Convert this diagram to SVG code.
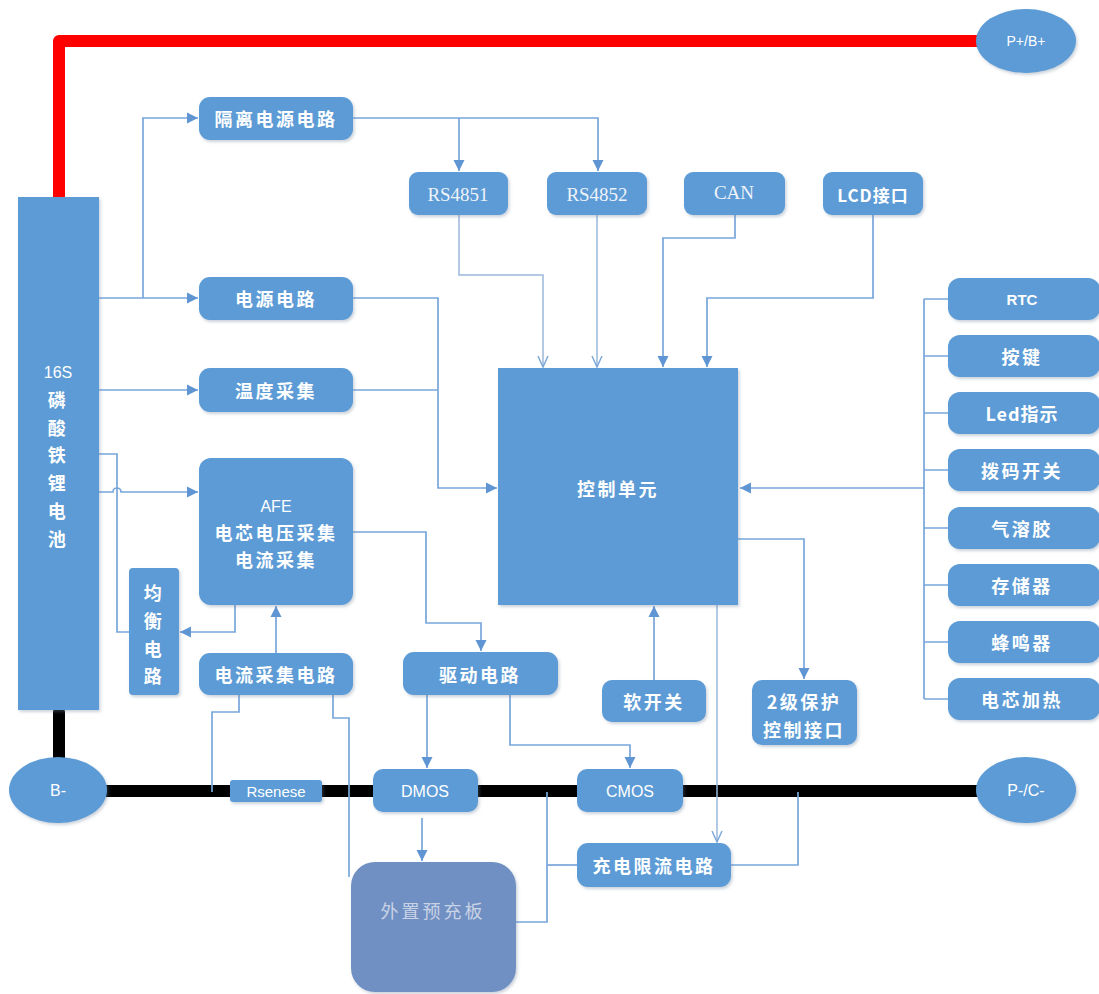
<svg xmlns="http://www.w3.org/2000/svg" width="1099" height="994" viewBox="0 0 1099 994">
<defs>
<filter id="sh" x="-10%" y="-10%" width="130%" height="140%"><feDropShadow dx="1.5" dy="2" stdDeviation="1.5" flood-color="#6a7f99" flood-opacity="0.35"/></filter>
<marker id="af" markerUnits="userSpaceOnUse" markerWidth="12" markerHeight="12" refX="11" refY="6" orient="auto"><path d="M0,0.5 L11,6 L0,11.5 z" fill="#5f95d3"/></marker>
<marker id="ao" markerUnits="userSpaceOnUse" markerWidth="12" markerHeight="12" refX="11" refY="6" orient="auto"><path d="M0,1 L11,6 L0,11" fill="none" stroke="#7aa5d8" stroke-width="1.4"/></marker>
</defs>
<style>
.box{fill:#5b9bd5;filter:url(#sh)}
.pre{fill:#6f8fc2;filter:url(#sh)}
.t{fill:#ffffff;font-family:"Noto Sans CJK SC","Noto Sans",sans-serif;font-size:18px;font-weight:bold;letter-spacing:2.5px;text-anchor:middle;dominant-baseline:central}
.s{fill:#eef3fa;font-family:"Liberation Serif",serif;font-size:19px;text-anchor:middle;dominant-baseline:central}
.e{fill:#ffffff;font-family:"Liberation Sans","Noto Sans",sans-serif;font-size:16px;text-anchor:middle;dominant-baseline:central}
.c{fill:none;stroke:#78a6db;stroke-width:1.7}
.ca{fill:none;stroke:#78a6db;stroke-width:1.7;marker-end:url(#af)}
.co{fill:none;stroke:#9ab8dc;stroke-width:1.5;marker-end:url(#ao)}
</style>
<rect width="1099" height="994" fill="#ffffff"/>

<!-- power rails -->
<g id="rails">
<path d="M59,199 V41 H985" fill="none" stroke="#ff0000" stroke-width="12" stroke-linecap="round" stroke-linejoin="round"/>
<path d="M59,712 V758" fill="none" stroke="#000000" stroke-width="12" stroke-linecap="round"/>
<path d="M100,791 H985" fill="none" stroke="#000000" stroke-width="12" stroke-linecap="round"/>
</g>

<!-- connectors -->
<g id="connectors">
<path class="ca" d="M99,298 H198"/>
<path class="ca" d="M143,298 V118 H198"/>
<path class="ca" d="M99,390 H198"/>
<path class="ca" d="M99,492 H113 a4,4 0 0 1 8,0 H198"/>
<path class="c" d="M99,454 H117 V632 H129"/>
<path class="ca" d="M235,605 V632 H180"/>
<path class="ca" d="M353,298 H438 V488 H497"/>
<path class="c" d="M353,390 H438"/>
<path class="ca" d="M353,118 H598 V171"/>
<path class="ca" d="M459,118 V171"/>
<path class="co" d="M459,215 V275 H543 V367"/>
<path class="co" d="M597,215 V367"/>
<path class="ca" d="M735,215 V238 H663 V367"/>
<path class="ca" d="M873,215 V298 H707 V367"/>
<path class="c" d="M924,299 V699"/>
<path class="c" d="M924,299 H948 M924,356 H948 M924,413 H948 M924,470 H948 M924,528 H948 M924,585 H948 M924,642 H948 M924,699 H948"/>
<path class="ca" d="M924,488 H740"/>
<path class="ca" d="M738,539 H804 V679"/>
<path class="ca" d="M654,680 V606"/>
<path class="co" d="M717,605 V842"/>
<path class="ca" d="M353,532 H426 V623 H481 V651"/>
<path class="ca" d="M427,695 V768"/>
<path class="ca" d="M510,695 V745 H630 V768"/>
<path class="ca" d="M422,818 V861"/>
<path class="ca" d="M276,653 V606"/>
<path class="c" d="M239,695 V712 H212 V792"/>
<path class="c" d="M333,695 V718 H349 V877"/>
<path class="c" d="M547,792 V922 H516"/>
<path class="c" d="M577,865 H547"/>
<path class="c" d="M731,865 H798 V792"/>
</g>

<!-- nodes -->
<g id="battery"><rect class="box" x="18" y="197" width="81" height="513"/>
<text class="e" x="58" y="372">16S</text>
<text class="t" x="58" y="399">磷</text><text class="t" x="58" y="427">酸</text><text class="t" x="58" y="454">铁</text><text class="t" x="58" y="482">锂</text><text class="t" x="58" y="510">电</text><text class="t" x="58" y="538">池</text></g>
<g id="pbplus"><ellipse class="box" cx="1026" cy="41" rx="50" ry="32"/><text class="e" x="1026" y="41" style="font-size:14px">P+/B+</text></g>
<g id="bminus"><ellipse class="box" cx="58" cy="790" rx="49" ry="33"/><text class="e" x="58" y="790">B-</text></g>
<g id="pcminus"><ellipse class="box" cx="1026" cy="790" rx="50" ry="33"/><text class="e" x="1026" y="790">P-/C-</text></g>
<g id="iso"><rect class="box" x="199" y="97" width="154" height="43" rx="11"/><text class="t" x="276" y="118">隔离电源电路</text></g>
<g id="power"><rect class="box" x="199" y="277" width="154" height="43" rx="11"/><text class="t" x="276" y="298">电源电路</text></g>
<g id="temp"><rect class="box" x="199" y="368" width="154" height="44" rx="11"/><text class="t" x="276" y="390">温度采集</text></g>
<g id="afe"><rect class="box" x="199" y="458" width="154" height="147" rx="12"/>
<text class="e" x="276" y="506">AFE</text><text class="t" x="276" y="532">电芯电压采集</text><text class="t" x="276" y="559">电流采集</text></g>
<g id="balance"><rect class="box" x="129" y="568" width="50" height="127" rx="4"/>
<text class="t" x="154" y="592">均</text><text class="t" x="154" y="620">衡</text><text class="t" x="154" y="648">电</text><text class="t" x="154" y="675">路</text></g>
<g id="cursense"><rect class="box" x="199" y="653" width="154" height="42" rx="11"/><text class="t" x="276" y="674">电流采集电路</text></g>
<g id="drive"><rect class="box" x="403" y="652" width="155" height="43" rx="11"/><text class="t" x="480" y="674">驱动电路</text></g>
<g id="rs1"><rect class="box" x="409" y="172" width="99" height="43" rx="9"/><text class="s" x="458" y="194">RS4851</text></g>
<g id="rs2"><rect class="box" x="547" y="172" width="100" height="43" rx="9"/><text class="s" x="597" y="194">RS4852</text></g>
<g id="can"><rect class="box" x="684" y="172" width="101" height="43" rx="9"/><text class="s" x="734" y="192">CAN</text></g>
<g id="lcd"><rect class="box" x="823" y="172" width="100" height="43" rx="9"/><text class="t" x="873" y="194" style="font-size:17px;letter-spacing:1px">LCD接口</text></g>
<g id="mcu"><rect class="box" x="498" y="368" width="240" height="237"/><text class="t" x="618" y="488">控制单元</text></g>
<g id="softsw"><rect class="box" x="602" y="680" width="104" height="42" rx="10"/><text class="t" x="654" y="701">软开关</text></g>
<g id="prot2"><rect class="box" x="752" y="680" width="105" height="65" rx="10"/><text class="t" x="804" y="701">2级保护</text><text class="t" x="804" y="729">控制接口</text></g>
<g id="rtc"><rect class="box" x="948" y="278" width="152" height="42" rx="12"/><text class="e" x="1022" y="299" style="font-weight:bold;font-size:15px">RTC</text></g>
<g id="key"><rect class="box" x="948" y="335" width="152" height="42" rx="12"/><text class="t" x="1022" y="356">按键</text></g>
<g id="led"><rect class="box" x="948" y="392" width="152" height="42" rx="12"/><text class="t" x="1022" y="413" style="letter-spacing:1px">Led指示</text></g>
<g id="dip"><rect class="box" x="948" y="449" width="152" height="42" rx="12"/><text class="t" x="1022" y="470">拨码开关</text></g>
<g id="aerosol"><rect class="box" x="948" y="507" width="152" height="42" rx="12"/><text class="t" x="1022" y="528">气溶胶</text></g>
<g id="memory"><rect class="box" x="948" y="564" width="152" height="42" rx="12"/><text class="t" x="1022" y="585">存储器</text></g>
<g id="buzzer"><rect class="box" x="948" y="621" width="152" height="42" rx="12"/><text class="t" x="1022" y="642">蜂鸣器</text></g>
<g id="heat"><rect class="box" x="948" y="678" width="152" height="42" rx="12"/><text class="t" x="1022" y="699">电芯加热</text></g>
<g id="rsense"><rect class="box" x="230" y="780" width="92" height="22" rx="3"/><text class="e" x="276" y="791" style="font-size:15px">Rsenese</text></g>
<g id="dmos"><rect class="box" x="373" y="769" width="105" height="43" rx="10"/><text class="e" x="425" y="791">DMOS</text></g>
<g id="cmos"><rect class="box" x="577" y="769" width="106" height="43" rx="10"/><text class="e" x="630" y="791">CMOS</text></g>
<g id="chglimit"><rect class="box" x="577" y="843" width="154" height="44" rx="11"/><text class="t" x="654" y="865">充电限流电路</text></g>
<g id="precharge"><rect class="pre" x="351" y="862" width="165" height="130" rx="24"/><text class="t" x="433" y="910" style="fill:#c9d3e6;font-weight:normal;letter-spacing:3px">外置预充板</text></g>
</svg>
